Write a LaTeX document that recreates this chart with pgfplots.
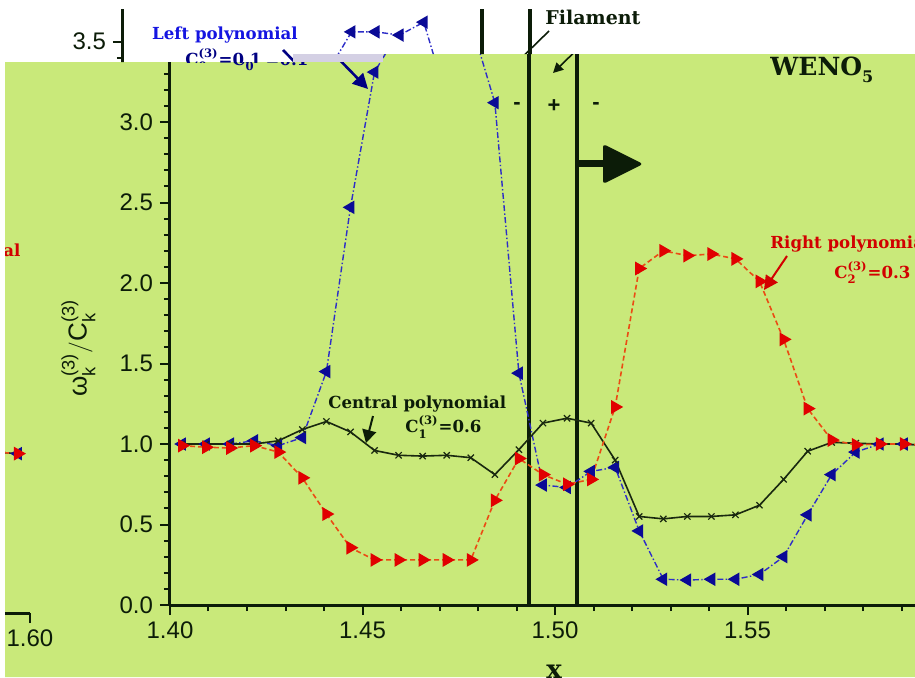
\documentclass[border=0pt]{standalone}
\usepackage{amsmath}
\usepackage{fontspec}
\setmainfont{Liberation Sans}
\newfontfamily\bsf{DejaVu Serif}
\usepackage{pgfplots}
\pgfplotsset{compat=1.18}
\usepackage{pgfplotstable}
\usetikzlibrary{arrows.meta}

\definecolor{bg}{RGB}{201,233,122}
\definecolor{axc}{RGB}{12,28,8}
\definecolor{bmark}{RGB}{10,10,150}
\definecolor{bline}{RGB}{45,45,200}
\definecolor{rmark}{RGB}{225,0,0}
\definecolor{rline}{RGB}{235,75,20}
\definecolor{cline}{RGB}{25,40,15}
\definecolor{ltxt}{RGB}{20,20,225}
\definecolor{ctxt}{RGB}{0,0,130}
\definecolor{rtxt}{RGB}{210,0,0}
\definecolor{glitch}{RGB}{212,208,228}

\pgfplotstableread{
x blue cen red
1.403125 1.00 1.00 0.99
1.409375 1.00 1.00 0.98
1.415625 1.00 1.00 0.975
1.421875 1.02 1.00 0.99
1.428125 0.99 1.02 0.95
1.434375 1.04 1.09 0.79
1.440625 1.45 1.14 0.565
1.446875 2.47 1.075 0.356
1.453125 3.31 0.96 0.28
1.459375 3.56 0.93 0.28
1.465625 3.56 0.925 0.28
1.471875 3.54 0.93 0.28
1.478125 3.62 0.915 0.28
1.484375 3.12 0.81 0.65
1.490625 1.44 0.965 0.91
1.496875 0.745 1.13 0.81
1.503125 0.73 1.16 0.75
1.509375 0.83 1.13 0.78
1.515625 0.855 0.90 1.23
1.521875 0.46 0.55 2.09
1.528125 0.16 0.535 2.20
1.534375 0.155 0.55 2.17
1.540625 0.16 0.55 2.18
1.546875 0.16 0.56 2.15
1.553125 0.19 0.62 2.01
1.559375 0.30 0.78 1.65
1.565625 0.56 0.955 1.22
1.571875 0.81 1.01 1.025
1.578125 0.95 1.005 0.995
1.584375 1.00 1.00 1.00
1.590625 1.00 1.00 1.00
1.596875 0.99 0.99 0.99
}\wdata

\newcommand{\ann}{\bsf\bfseries\fontsize{8.3}{9.5}\selectfont}

\newcommand{\chart}[2]{%
\begin{axis}[
 at={({85pt+#1},{36pt+#2})}, anchor=south west,
 scale only axis, width=385pt, height=297.85pt,
 xmin=1.40, xmax=1.60, ymin=0, ymax=3.7,
 clip=false,
 axis x line*=bottom, axis y line*=left,
 axis line style={line width=1.5pt, draw=axc},
 xtick={1.40,1.45,1.50,1.55,1.60},
 ytick={0,0.5,1,1.5,2,2.5,3,3.5},
 minor x tick num=4, minor y tick num=4,
 tick align=outside,
 major tick length=5pt, minor tick length=3pt,
 tick style={line width=1pt, draw=axc},
 /pgf/number format/assume math mode=true,
 xticklabel style={/pgf/number format/fixed, /pgf/number format/fixed zerofill, /pgf/number format/precision=2},
 yticklabel style={/pgf/number format/fixed, /pgf/number format/fixed zerofill, /pgf/number format/precision=1},
 tick label style={font=\fontsize{12}{12}\selectfont, text=axc},
 ylabel={$\text{ω}^{\text{(3)}}_{\text{k}}/\text{C}^{\text{(3)}}_{\text{k}}$},
 ylabel style={at={(axis description cs:-0.119,0.431)}, anchor=center, font=\fontsize{13}{13}\selectfont, text=axc},
]
\addplot[axc, line width=2pt] coordinates {(1.4933,0) (1.4933,3.7)};
\addplot[axc, line width=2pt] coordinates {(1.5057,0) (1.5057,3.7)};
\addplot[bline, line width=0.7pt, dash pattern=on 3pt off 1.2pt on 0.7pt off 1.2pt, mark=triangle*, mark size=3.2pt, mark options={solid, draw=bmark, fill=bmark, rotate=90}] table[x=x,y=blue]{\wdata};
\addplot[cline, line width=0.8pt, mark=x, mark size=2.2pt, mark options={solid, draw=cline, line width=0.6pt}] table[x=x,y=cen]{\wdata};
\addplot[rline, line width=0.8pt, dash pattern=on 2.5pt off 1.5pt, mark=triangle*, mark size=3.2pt, mark options={solid, draw=rmark, fill=rmark, rotate=-90}] table[x=x,y=red]{\wdata};
\end{axis}
\begin{scope}[x=0.5pt, y=-0.5pt, shift={(#1,{#2+338.5pt})}]
\node[font=\ann, text=ltxt] at (272,35) {Left polynomial};
\node[font=\ann, text=ctxt, anchor=base west, inner sep=0] at (232,65) {C$^{\text{(3)}}_{\text{0}}$=0.1};
\draw[ctxt, line width=1.3pt, -{Triangle[length=7.5pt,width=7.5pt]}] (330,50) -- (368,89);
\node[font=\bsf\bfseries\fontsize{9.5}{10}\selectfont, text=axc, anchor=base west, inner sep=0] at (592,24) {Filament};
\draw[axc, line width=0.8pt, -{Triangle[length=5pt,width=5pt]}] (596,31) -- (553,73);
\node[font=\bfseries\fontsize{11}{11}\selectfont, text=axc] at (517,106) {-};
\node[font=\bfseries\fontsize{11}{11}\selectfont, text=axc] at (554,106) {+};
\node[font=\bfseries\fontsize{11}{11}\selectfont, text=axc] at (596,106) {-};
\draw[axc, line width=3.5pt] (577,163) -- (606,163);
\fill[axc, rounded corners=1.5pt] (603,144) -- (643,164) -- (603,184) -- cycle;
\node[font=\bsf\bfseries\fontsize{12.5}{13}\selectfont, text=axc, anchor=base west, inner sep=0] at (770,75) {WENO\raisebox{-0.6ex}{\fontsize{8}{8}\selectfont 5}};
\node[font=\ann, text=axc, anchor=base west, inner sep=0] at (328,408) {Central polynomial};
\node[font=\ann, text=axc, anchor=base west, inner sep=0] at (405,432) {C$^{\text{(3)}}_{\text{1}}$=0.6};
\draw[axc, line width=1pt, -{Triangle[length=6.5pt,width=7pt]}] (373,416) -- (366,443);
\node[font=\ann, text=rtxt, anchor=base west, inner sep=0] at (770,248) {Right polynomial};
\node[font=\ann, text=rtxt, anchor=base west, inner sep=0] at (834,278) {C$^{\text{(3)}}_{\text{2}}$=0.3};
\draw[rtxt, line width=1pt, -{Triangle[length=7pt,width=7pt]}] (787,256) -- (764,290);
\node[font=\bsf\bfseries\fontsize{13}{13}\selectfont, text=axc, anchor=base, inner sep=0] at (554,678) {x};
\end{scope}
}

\begin{document}
\begin{tikzpicture}
\useasboundingbox (0,0) rectangle (457.5pt,338.5pt);
\begin{scope}[x=0.5pt,y=-0.5pt,shift={(0,338.5pt)}]
\fill[white] (0,0) rectangle (915,677);
\fill[bg] (5,62) -- (293,62) -- (293,54) -- (915,54) -- (915,677) -- (5,677) -- cycle;
\end{scope}
% main copy
\begin{scope}
\clip[x=0.5pt,y=-0.5pt,shift={(0,338.5pt)}] (58,62) -- (293,62) -- (293,54) -- (915,54) -- (915,677) -- (58,677) -- cycle;
\chart{0pt}{0pt}
\end{scope}
% wrapped copy on the left
\begin{scope}
\clip[x=0.5pt,y=-0.5pt,shift={(0,338.5pt)}] (5,62) rectangle (58,677);
\chart{-455pt}{-4pt}
\end{scope}
% shifted copy in the top strip
\begin{scope}
\clip[x=0.5pt,y=-0.5pt,shift={(0,338.5pt)}] (0,0) -- (915,0) -- (915,54) -- (293,54) -- (293,62) -- (0,62) -- cycle;
\chart{-23.5pt}{0pt}
\end{scope}
\fill[glitch, x=0.5pt,y=-0.5pt,shift={(0,338.5pt)}] (293,54) rectangle (383,62);
\end{tikzpicture}
\end{document}
